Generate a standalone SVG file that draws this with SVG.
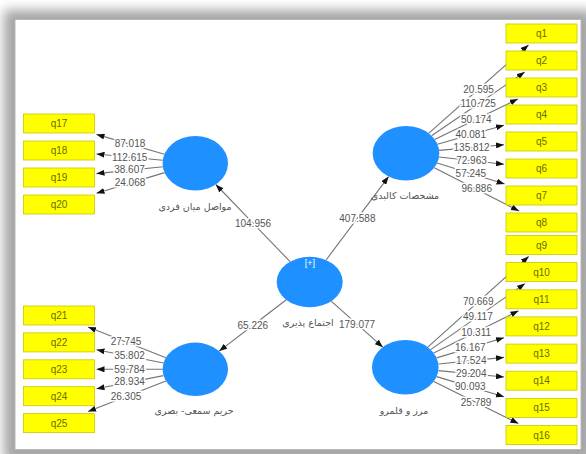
<svg xmlns="http://www.w3.org/2000/svg" width="586" height="454" viewBox="0 0 586 454">
<defs>
<filter id="sh" x="-10%" y="-10%" width="120%" height="120%"><feGaussianBlur stdDeviation="6"/></filter>
<marker id="ah" markerWidth="8" markerHeight="6" refX="8" refY="3" orient="auto" markerUnits="userSpaceOnUse"><path d="M0,0 L8,3 L0,6 z" fill="#111"/></marker>
<style>
.box{fill:#ffff00;stroke:#c8c800;stroke-width:0.8}
.bt{font-family:"Liberation Sans",Arial,sans-serif;font-size:10px;fill:#6b6b00;text-anchor:middle}
.lv{fill:#1e90ff}
.lt{font-family:"DejaVu Sans","Noto Sans",sans-serif;font-size:9.5px;fill:#555;text-anchor:middle}
.ln{stroke:#747474;stroke-width:1.1;fill:none;marker-end:url(#ah)}
.nm{font-family:"Liberation Sans",Arial,sans-serif;font-size:10px;fill:#555;text-anchor:middle;paint-order:stroke;stroke:#fff;stroke-width:3px}
</style>
</defs>
<rect x="0" y="0" width="586" height="454" fill="#fff"/>
<rect x="4" y="10" width="590" height="452" fill="#a4a4a4" filter="url(#sh)"/>
<rect x="15" y="19.5" width="566" height="430" fill="#fff" stroke="#b8b8b8" stroke-width="1"/>

<g id="connectors">
<line class="ln" x1="290.1" y1="261.7" x2="215.8" y2="184.5"/>
<line class="ln" x1="326.1" y1="260" x2="388.6" y2="176.6"/>
<line class="ln" x1="286.3" y1="299.8" x2="219.2" y2="351.1"/>
<line class="ln" x1="331.2" y1="301.2" x2="382.8" y2="347.2"/>
<line class="ln" x1="428.6" y1="133.3" x2="528.5" y2="45"/>
<line class="ln" x1="431.6" y1="135.8" x2="524.7" y2="72"/>
<line class="ln" x1="434.7" y1="139.4" x2="517.8" y2="99"/>
<line class="ln" x1="437.4" y1="144.3" x2="504" y2="125.2"/>
<line class="ln" x1="439.1" y1="150.4" x2="504" y2="144.8"/>
<line class="ln" x1="439" y1="157" x2="504" y2="164.3"/>
<line class="ln" x1="437.1" y1="163" x2="504.6" y2="184"/>
<line class="ln" x1="434.3" y1="167.7" x2="519" y2="211"/>
<line class="ln" x1="427.8" y1="347.1" x2="528.7" y2="256.5"/>
<line class="ln" x1="430.6" y1="349.6" x2="525" y2="283.6"/>
<line class="ln" x1="433.7" y1="353.1" x2="518.5" y2="310.8"/>
<line class="ln" x1="436.6" y1="357.9" x2="504" y2="337.7"/>
<line class="ln" x1="438.4" y1="364" x2="504" y2="357.4"/>
<line class="ln" x1="438.4" y1="370.6" x2="504" y2="377"/>
<line class="ln" x1="436.6" y1="376.6" x2="504" y2="396.7"/>
<line class="ln" x1="433.8" y1="381.5" x2="518.4" y2="423.5"/>
<line class="ln" x1="164.4" y1="154.3" x2="96.5" y2="134.4"/>
<line class="ln" x1="162.8" y1="160.2" x2="96.5" y2="154"/>
<line class="ln" x1="162.9" y1="166.7" x2="96.5" y2="173.6"/>
<line class="ln" x1="164.6" y1="172.6" x2="96.5" y2="193.2"/>
<line class="ln" x1="165.9" y1="357.7" x2="88.1" y2="327"/>
<line class="ln" x1="163.5" y1="363" x2="96.5" y2="349.8"/>
<line class="ln" x1="162.6" y1="369.3" x2="96.5" y2="369.3"/>
<line class="ln" x1="163.5" y1="375.6" x2="96.5" y2="388.8"/>
<line class="ln" x1="165.9" y1="380.9" x2="88.1" y2="411.6"/>
<text class="nm" x="253" y="226.5">104.956</text>
<text class="nm" x="357.4" y="221.5">407.588</text>
<text class="nm" x="252.8" y="328.5">65.226</text>
<text class="nm" x="357" y="327.5">179.077</text>
<text class="nm" x="478.6" y="92.7">20.595</text>
<text class="nm" x="478.2" y="107.4">110.725</text>
<text class="nm" x="476.3" y="122.7">50.174</text>
<text class="nm" x="470.7" y="138.3">40.081</text>
<text class="nm" x="471.6" y="151.1">135.812</text>
<text class="nm" x="471.5" y="164.2">72.963</text>
<text class="nm" x="470.9" y="177">57.245</text>
<text class="nm" x="476.7" y="192.4">96.886</text>
<text class="nm" x="478.2" y="305.3">70.669</text>
<text class="nm" x="477.8" y="320.1">49.117</text>
<text class="nm" x="476.1" y="335.5">10.311</text>
<text class="nm" x="470.3" y="351.3">16.167</text>
<text class="nm" x="471.2" y="364.2">17.524</text>
<text class="nm" x="471.2" y="377.3">29.204</text>
<text class="nm" x="470.3" y="390.2">90.093</text>
<text class="nm" x="476.1" y="405.5">25.789</text>
<text class="nm" x="130" y="147.4">87.018</text>
<text class="nm" x="129.7" y="160.6">112.615</text>
<text class="nm" x="129.5" y="173.3">38.607</text>
<text class="nm" x="130" y="185.9">24.068</text>
<text class="nm" x="126" y="345.4">27.745</text>
<text class="nm" x="129.5" y="359.4">35.802</text>
<text class="nm" x="129.5" y="372.8">59.784</text>
<text class="nm" x="129.5" y="385.2">28.934</text>
<text class="nm" x="126" y="399.8">26.305</text>
</g>

<g id="n-center"><ellipse class="lv" cx="309.7" cy="282" rx="33" ry="25.3"/><text x="310" y="266" font-family="Liberation Sans,Arial,sans-serif" font-size="9" fill="#fff" text-anchor="middle">[+]</text><text class="lt" x="308" y="326">اجتماع پذیری</text></g>
<g id="n-ul"><ellipse class="lv" cx="195.3" cy="163.3" rx="32.7" ry="27.3"/><text class="lt" x="195" y="209.5">مواصل میان فردی</text></g>
<g id="n-ur"><ellipse class="lv" cx="406" cy="153.3" rx="33.3" ry="27.3"/><text class="lt" x="405" y="198.5">مشخصات کالبدی</text></g>
<g id="n-ll"><ellipse class="lv" cx="195.3" cy="369.3" rx="32.7" ry="26.7"/><text class="lt" x="194" y="413.5">حریم سمعی- بصری</text></g>
<g id="n-lr"><ellipse class="lv" cx="405.3" cy="367.3" rx="33.3" ry="27.3"/><text class="lt" x="404" y="413.5">مرز و قلمرو</text></g>

<g id="q1"><rect class="box" x="506" y="24" width="71" height="19"/><text class="bt" x="541.5" y="37">q1</text></g>
<g id="q2"><rect class="box" x="506" y="51" width="71" height="19"/><text class="bt" x="541.5" y="64">q2</text></g>
<g id="q3"><rect class="box" x="506" y="78" width="71" height="19"/><text class="bt" x="541.5" y="91">q3</text></g>
<g id="q4"><rect class="box" x="506" y="105" width="71" height="19"/><text class="bt" x="541.5" y="118">q4</text></g>
<g id="q5"><rect class="box" x="506" y="132" width="71" height="19"/><text class="bt" x="541.5" y="145">q5</text></g>
<g id="q6"><rect class="box" x="506" y="159" width="71" height="19"/><text class="bt" x="541.5" y="172">q6</text></g>
<g id="q7"><rect class="box" x="506" y="186" width="71" height="19"/><text class="bt" x="541.5" y="199">q7</text></g>
<g id="q8"><rect class="box" x="506" y="213" width="71" height="19"/><text class="bt" x="541.5" y="226">q8</text></g>
<g id="q9"><rect class="box" x="506" y="235.5" width="71" height="19"/><text class="bt" x="541.5" y="248.5">q9</text></g>
<g id="q10"><rect class="box" x="506" y="262.6" width="71" height="19"/><text class="bt" x="541.5" y="275.6">q10</text></g>
<g id="q11"><rect class="box" x="506" y="289.8" width="71" height="19"/><text class="bt" x="541.5" y="302.8">q11</text></g>
<g id="q12"><rect class="box" x="506" y="316.9" width="71" height="19"/><text class="bt" x="541.5" y="329.9">q12</text></g>
<g id="q13"><rect class="box" x="506" y="344.1" width="71" height="19"/><text class="bt" x="541.5" y="357.1">q13</text></g>
<g id="q14"><rect class="box" x="506" y="371.2" width="71" height="19"/><text class="bt" x="541.5" y="384.2">q14</text></g>
<g id="q15"><rect class="box" x="506" y="398.4" width="71" height="19"/><text class="bt" x="541.5" y="411.4">q15</text></g>
<g id="q16"><rect class="box" x="506" y="425.5" width="71" height="19"/><text class="bt" x="541.5" y="438.5">q16</text></g>
<g id="q17"><rect class="box" x="23.5" y="114" width="71" height="19"/><text class="bt" x="59" y="127">q17</text></g>
<g id="q18"><rect class="box" x="23.5" y="141" width="71" height="19"/><text class="bt" x="59" y="154">q18</text></g>
<g id="q19"><rect class="box" x="23.5" y="168" width="71" height="19"/><text class="bt" x="59" y="181">q19</text></g>
<g id="q20"><rect class="box" x="23.5" y="195" width="71" height="19"/><text class="bt" x="59" y="208">q20</text></g>
<g id="q21"><rect class="box" x="23.5" y="306" width="71" height="19"/><text class="bt" x="59" y="319">q21</text></g>
<g id="q22"><rect class="box" x="23.5" y="332.9" width="71" height="19"/><text class="bt" x="59" y="345.9">q22</text></g>
<g id="q23"><rect class="box" x="23.5" y="359.8" width="71" height="19"/><text class="bt" x="59" y="372.8">q23</text></g>
<g id="q24"><rect class="box" x="23.5" y="386.7" width="71" height="19"/><text class="bt" x="59" y="399.7">q24</text></g>
<g id="q25"><rect class="box" x="23.5" y="413.6" width="71" height="19"/><text class="bt" x="59" y="426.6">q25</text></g>
</svg>
